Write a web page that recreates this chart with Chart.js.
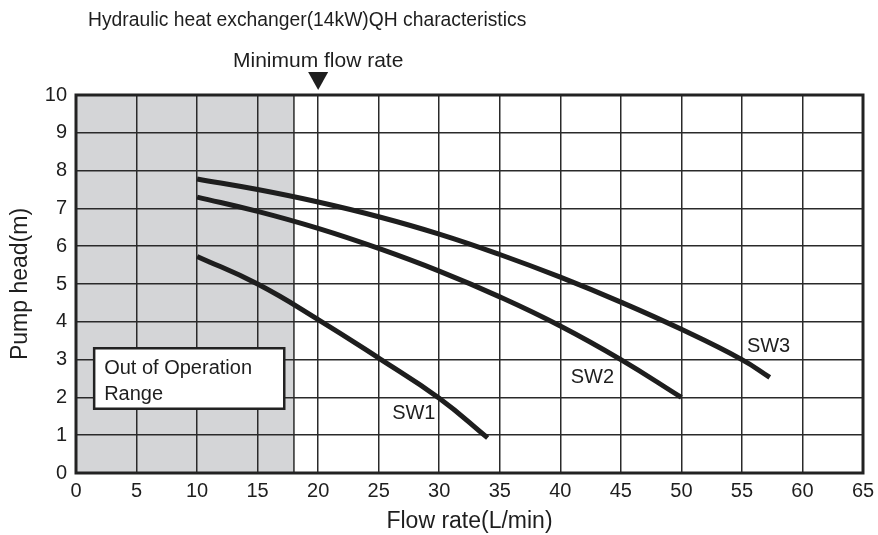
<!DOCTYPE html>
<html lang="en">
<head>
<meta charset="UTF-8">
<title>Hydraulic heat exchanger QH characteristics</title>
<script src="https://cdn.jsdelivr.net/npm/chart.js"></script>
<style>
  html, body { margin: 0; padding: 0; background: #fff; }
</style>
</head>
<body>
<canvas id="chartCanvas" width="878" height="535"></canvas>
<script>
// chart data
const chartTitle = 'Hydraulic heat exchanger(14kW)QH characteristics';
const markerText = 'Minimum flow rate';
const boxText = ['Out of Operation', 'Range'];
const xTitle = 'Flow rate(L/min)';
const yTitle = 'Pump head(m)';
const xTicks = [0, 5, 10, 15, 20, 25, 30, 35, 40, 45, 50, 55, 60, 65];
const yTicks = [0, 1, 2, 3, 4, 5, 6, 7, 8, 9, 10];
const seriesNames = ['SW1', 'SW2', 'SW3'];
const minFlowRate = 20;
const outOfRangeMax = 18;

const sw1Flow = [10, 15, 20, 25, 30, 34];
const sw1Head = [5.73, 5.0, 4.06, 3.04, 1.98, 0.93];
const sw2Flow = [10, 15, 20, 25, 30, 35, 40, 45, 50];
const sw2Head = [7.3, 6.92, 6.47, 5.94, 5.34, 4.66, 3.89, 3.0, 2.0];
const sw3Flow = [10, 15, 20, 25, 30, 35, 40, 45, 50, 55, 57.3];
const sw3Head = [7.78, 7.5, 7.17, 6.78, 6.32, 5.78, 5.18, 4.52, 3.8, 3.0, 2.53];

const FONT = '"Liberation Sans", Arial, sans-serif';
const INK = '#1e1e1e';
Chart.defaults.font.family = FONT;
Chart.defaults.color = INK;

function toPoints(xs, ys) {
    return xs.map((x, i) => ({ x: x, y: ys[i] }));
}

const curves = [[sw1Flow, sw1Head], [sw2Flow, sw2Head], [sw3Flow, sw3Head]];

// gray "out of range" area, frame, marker and texts
const decorations = {
    id: 'decorations',
    beforeDraw(chart) {
        const { ctx, chartArea: a, scales: { x } } = chart;
        const xr = x.getPixelForValue(outOfRangeMax);
        ctx.save();
        ctx.fillStyle = '#d4d5d7';
        ctx.fillRect(a.left, a.top, xr - a.left, a.bottom - a.top);
        ctx.strokeStyle = '#2a2a2a';
        ctx.lineWidth = 1.5;
        ctx.beginPath();
        ctx.moveTo(xr, a.top);
        ctx.lineTo(xr, a.bottom);
        ctx.stroke();
        ctx.restore();
    },
    afterDatasetsDraw(chart) {
        const { ctx, chartArea: a, scales: { x, y } } = chart;
        ctx.save();
        // frame
        ctx.strokeStyle = '#222';
        ctx.lineWidth = 3;
        ctx.strokeRect(a.left, a.top, a.right - a.left, a.bottom - a.top);

        // out of operation box
        const bx0 = x.getPixelForValue(1.5), bx1 = x.getPixelForValue(17.2);
        const by0 = y.getPixelForValue(3.3), by1 = y.getPixelForValue(1.7);
        ctx.fillStyle = '#fff';
        ctx.fillRect(bx0, by0, bx1 - bx0, by1 - by0);
        ctx.lineWidth = 2.5;
        ctx.strokeRect(bx0, by0, bx1 - bx0, by1 - by0);
        ctx.fillStyle = INK;
        ctx.font = '20px ' + FONT;
        ctx.textBaseline = 'middle';
        ctx.textAlign = 'left';
        ctx.fillText(boxText[0], bx0 + 10, by0 + 20);
        ctx.fillText(boxText[1], bx0 + 10, by0 + 46);

        // series labels
        const labelAt = [[27.9, 1.58], [42.65, 2.54], [57.2, 3.36]];
        ctx.textAlign = 'center';
        seriesNames.forEach((name, i) => {
            ctx.fillText(name, x.getPixelForValue(labelAt[i][0]), y.getPixelForValue(labelAt[i][1]));
        });

        // title and minimum flow marker
        ctx.textAlign = 'left';
        ctx.font = '19.3px ' + FONT;
        ctx.fillText(chartTitle, 88, 21);
        const mx = x.getPixelForValue(minFlowRate);
        ctx.font = '21px ' + FONT;
        ctx.textAlign = 'center';
        ctx.fillText(markerText, mx, 61);
        ctx.beginPath();
        ctx.moveTo(mx - 10, 72);
        ctx.lineTo(mx + 10, 72);
        ctx.lineTo(mx, 90);
        ctx.closePath();
        ctx.fill();
        ctx.restore();
    }
};

const ctx = document.getElementById('chartCanvas').getContext('2d');
window.myChart = new Chart(ctx, {
    type: 'scatter',
    data: {
        datasets: curves.map((c, i) => ({
            label: seriesNames[i],
            data: toPoints(c[0], c[1]),
            showLine: true,
            borderColor: INK,
            borderWidth: 5,
            borderCapStyle: 'butt',
            borderJoinStyle: 'round',
            pointRadius: 0,
            tension: 0.45,
            fill: false
        }))
    },
    options: {
        responsive: false,
        animation: false,
        layout: { padding: { top: 95, right: 15, left: 0, bottom: 0 } },
        elements: { line: { tension: 0.45 } },
        plugins: {
            legend: { display: false },
            tooltip: { enabled: false }
        },
        scales: {
            x: {
                type: 'linear',
                min: 0,
                max: 65,
                afterBuildTicks: s => { s.ticks = xTicks.map(v => ({ value: v })); },
                afterFit: s => { s.height = 62; s.paddingRight = 0; s.paddingLeft = 0; },
                ticks: { font: { size: 20 }, padding: 6, maxRotation: 0, color: INK },
                grid: { color: '#2a2a2a', lineWidth: 1.5, drawTicks: false },
                border: { display: false },
                title: { display: true, text: xTitle, font: { size: 23 }, padding: { bottom: 0, top: 0 }, color: INK }
            },
            y: {
                type: 'linear',
                min: 0,
                max: 10,
                afterBuildTicks: s => { s.ticks = yTicks.map(v => ({ value: v })); },
                afterFit: s => { s.width = 76; },
                ticks: { font: { size: 20 }, padding: 9, color: INK },
                grid: { color: '#2a2a2a', lineWidth: 1.5, drawTicks: false },
                border: { display: false },
                title: { display: true, text: yTitle, font: { size: 23 }, padding: { top: 7, bottom: 0 }, color: INK }
            }
        }
    },
    plugins: [decorations]
});
</script>
</body>
</html>
